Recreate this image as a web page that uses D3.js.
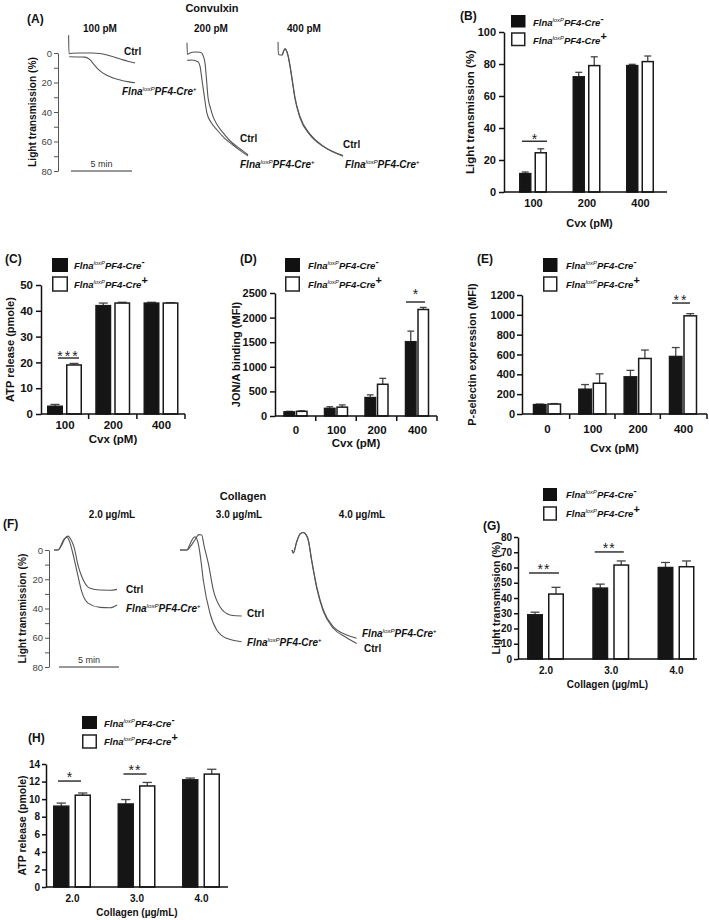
<!DOCTYPE html>
<html><head><meta charset="utf-8">
<script src="https://cdn.jsdelivr.net/npm/d3@7"></script>
<style>
body{margin:0;background:#fff}
svg{display:block}
text{font-family:"Liberation Sans",Arial,Helvetica,sans-serif}
</style>
</head><body>
<svg id="c" width="709" height="920"></svg>
<script>
// ---------------- DATA ----------------
// Aggregation traces (time in min, light transmission in %)
const convConcs = ["100 pM", "200 pM", "400 pM"];
const convCtrl100 = [[0.05,-12],[0.08,0.5],[0.3,0.2],[1.0,0],[2.0,0],[2.6,0.3],[3.2,1.3],[3.7,2.5],[4.3,4],[4.9,5.6],[5.5,6.8]];
const convFlna100 = [[0.1,2.5],[0.8,2.7],[1.4,2.8],[1.8,4.5],[2.1,7.5],[2.6,12],[3.1,14.8],[3.7,17],[4.4,18.6],[5.0,19.6],[5.5,20.2]];
const convCtrl200 = [[0,-7],[0.03,1],[0.25,0],[0.66,-0.7],[1.07,-0.5],[1.23,0.2],[1.35,2.5],[1.48,7],[1.6,18],[1.72,30],[1.93,37.5],[2.13,43],[2.5,49],[2.95,54],[3.52,59.5],[4.1,63.5],[4.6,66.5],[5.0,69]];
const convFlna200 = [[0.02,5],[0.41,4.7],[0.9,5.9],[1.07,9],[1.23,18.3],[1.43,30],[1.64,41],[1.97,47],[2.46,52.2],[3.11,58],[3.77,62.4],[4.34,66],[5.0,69.8]];
const convCtrl400 = [[0,-7.5],[0.03,1],[0.33,1.4],[0.57,-3],[0.82,1.4],[0.98,8],[1.15,17],[1.39,30],[1.8,43],[2.62,55],[3.69,63],[5.33,69.5]];
const convFlna400 = [[0.33,1.6],[0.57,-2.6],[0.82,2],[0.98,9],[1.15,18],[1.39,31],[1.8,44],[2.62,55.5],[3.69,63.3],[5.33,70]];

const collConcs = ["2.0 µg/mL", "3.0 µg/mL", "4.0 µg/mL"];
const collCtrl2 = [[0,0],[0.33,0],[0.64,-3.4],[0.92,-8],[1.17,-9.5],[1.42,-7],[1.67,-2],[2.03,11.4],[2.44,20.5],[3.0,26.2],[3.83,27.4],[4.67,27.5],[5.25,26.9]];
const collFlna2 = [[0,0],[0.33,0],[0.58,-3],[0.83,-7.5],[1.08,-8.5],[1.33,-5],[1.5,0],[1.89,13.7],[2.31,28.5],[2.86,36.5],[3.83,39.2],[4.67,39.5],[5.25,37.6]];
const collCtrl3 = [[0,0],[0.58,0],[0.92,-3],[1.25,-7],[1.58,-10.5],[1.81,-10.3],[2.0,-3],[2.36,9.1],[2.78,27.4],[3.33,38.8],[4.17,44.4],[4.67,45],[5.14,45.1]];
const collFlna3 = [[0,0],[0.58,0],[0.83,-4],[1.08,-8],[1.25,-9],[1.5,-5],[1.71,5],[1.94,20.5],[2.5,43.3],[3.06,54.7],[3.89,60.4],[5.14,62.7]];
const collCtrl4 = [[0,0],[0.11,2],[0.39,-5.5],[0.67,-10.8],[0.92,-12],[1.17,-10.5],[1.36,-6.5],[1.64,7.5],[2.06,26],[2.61,42],[3.44,53.5],[4.56,60],[5.39,64]];
const collFlna4 = [[0,0],[0.11,2],[0.39,-5.7],[0.67,-11],[0.92,-12],[1.17,-10.5],[1.36,-6.8],[1.64,6.8],[2.06,25],[2.61,41],[3.44,52.4],[4.56,58.1],[5.39,60.4]];

// (B) Light transmission, Cvx
const cvx3 = ["100", "200", "400"];
const bMinus = [11.5, 72, 79];   const bMinusErr = [1, 2.8, 0.8];
const bPlus  = [24.5, 79, 81.5]; const bPlusErr  = [2.5, 5.5, 3.5];
// (C) ATP release, Cvx
const cMinus = [3, 42, 43];    const cMinusErr = [0.7, 1, 0.3];
const cPlus  = [19, 43, 43];   const cPlusErr  = [0.6, 0.3, 0.15];
// (D) JON/A binding
const cvx4 = ["0", "100", "200", "400"];
const dMinus = [85, 155, 375, 1510]; const dMinusErr = [10, 33, 55, 215];
const dPlus  = [95, 180, 645, 2165]; const dPlusErr  = [10, 45, 120, 42];
// (E) P-selectin expression
const eMinus = [95, 250, 375, 580];  const eMinusErr = [5, 47, 65, 90];
const ePlus  = [100, 310, 560, 990]; const ePlusErr  = [5, 95, 85, 22];
// (G) Light transmission, collagen
const coll3 = ["2.0", "3.0", "4.0"];
const gMinus = [29, 46.5, 60];     const gMinusErr = [1.7, 2.6, 3.3];
const gPlus  = [42.6, 61.6, 60.5]; const gPlusErr  = [4.4, 2.7, 3.8];
// (H) ATP release, collagen
const hMinus = [9.2, 9.45, 12.2];    const hMinusErr = [0.35, 0.5, 0.2];
const hPlus  = [10.45, 11.5, 12.85]; const hPlusErr  = [0.25, 0.4, 0.55];

// ---------------- DRAWING ----------------
const svg = d3.select("#c");
const FF = '"Liberation Sans",Arial,Helvetica,sans-serif';

function label(x, y, s, size, opts = {}) {
  const t = svg.append("text").attr("x", x).attr("y", y).attr("font-size", size)
    .attr("font-weight", opts.weight || "bold").attr("text-anchor", opts.anchor || "start")
    .attr("fill", opts.fill || "#111").text(s);
  if (opts.rotate) t.attr("transform", `rotate(-90,${x},${y})`);
  if (opts.ls) t.attr("letter-spacing", opts.ls);
  return t;
}

function geno(x, y, size, sign, signSize) {
  const t = svg.append("text").attr("x", x).attr("y", y).attr("font-size", size)
    .attr("font-weight", "bold").attr("font-style", "italic").attr("fill", "#111");
  t.append("tspan").text("Flna");
  t.append("tspan").attr("dy", -size * 0.38).attr("font-size", size * 0.62).attr("font-weight", "normal").text("loxP");
  t.append("tspan").attr("dy", size * 0.38).text("PF4-Cre");
  t.append("tspan").attr("dy", -size * 0.42).attr("font-size", signSize).attr("font-style", "normal").text(sign);
  return t;
}

function legend(x, yBlack, yWhite, w, h, tx, tb1, tb2, size) {
  svg.append("rect").attr("x", x).attr("y", yBlack).attr("width", w).attr("height", h).attr("fill", "#111");
  svg.append("rect").attr("x", x + 0.75).attr("y", yWhite).attr("width", w - 1.5).attr("height", h)
    .attr("fill", "#fff").attr("stroke", "#222").attr("stroke-width", 1.5);
  geno(tx, tb1, size, "-", size * 1.0);
  geno(tx, tb2, size, "+", size * 1.15);
}

function traceChart(cfg) {
  const ty = d3.scaleLinear().domain([0, 80]).range([cfg.y0, cfg.y80]);
  const tx = d3.scaleLinear().domain([0, 5]).range([0, cfg.pxPer5]);
  const g = svg.append("g");
  const ax = g.append("g").attr("transform", `translate(${cfg.axisX},0)`)
    .call(d3.axisLeft(ty).tickValues(d3.range(0, 81, 10)).tickFormat(d => d % 20 === 0 ? d : "")
      .tickSize(4).tickPadding(2).tickSizeOuter(0));
  ax.selectAll("path,line").attr("stroke", "#555").attr("stroke-width", 1);
  ax.selectAll("text").attr("font-size", 9.5).attr("fill", "#444").attr("font-family", FF);
  // scale bar
  g.append("line").attr("x1", cfg.barX).attr("x2", cfg.barX + tx(5)).attr("y1", ty(80)).attr("y2", ty(80))
    .attr("stroke", "#333").attr("stroke-width", 1.2);
  label(cfg.barX + tx(5) / 2, ty(80) - 4, "5 min", 9, { anchor: "middle", weight: "normal", fill: "#333" });
  // axis title
  label(cfg.titleX, (ty(0) + ty(80)) / 2, "Light transmission (%)", 10.2, { anchor: "middle", rotate: true });
  const line = d3.line().x(d => d[0]).y(d => ty(d[1])).curve(d3.curveMonotoneX);
  cfg.traces.forEach(tr => {
    tr.series.forEach(s => {
      g.append("path").attr("d", line(s.map(d => [tr.off + tx(d[0]), d[1]])))
        .attr("fill", "none").attr("stroke", "#555").attr("stroke-width", 1.1);
    });
    label(tr.headX, cfg.headY, tr.name, 10, { anchor: "middle" });
  });
}

function barChart(cfg) {
  const x = d3.scalePoint().domain(cfg.cats).range([cfg.c0, cfg.c1]);
  const y = d3.scaleLinear().domain([0, cfg.max]).range([cfg.yb, cfg.yt]);
  const g = svg.append("g");
  const off = cfg.gap / 2 + cfg.barW / 2;
  const series = [
    { vals: cfg.minus, errs: cfg.minusErr, fill: "#151515", dx: -off },
    { vals: cfg.plus, errs: cfg.plusErr, fill: "#fff", dx: off }
  ];
  series.forEach(s => {
    const rows = cfg.cats.map((c, i) => ({ c, v: s.vals[i], e: s.errs[i] }));
    g.selectAll(null).data(rows).enter().append("line")
      .attr("x1", d => x(d.c) + s.dx).attr("x2", d => x(d.c) + s.dx)
      .attr("y1", d => y(d.v)).attr("y2", d => y(d.v + d.e))
      .attr("stroke", "#444").attr("stroke-width", 1.3);
    g.selectAll(null).data(rows).enter().append("line")
      .attr("x1", d => x(d.c) + s.dx - cfg.barW * 0.28).attr("x2", d => x(d.c) + s.dx + cfg.barW * 0.28)
      .attr("y1", d => y(d.v + d.e)).attr("y2", d => y(d.v + d.e))
      .attr("stroke", "#444").attr("stroke-width", 1.3);
    g.selectAll(null).data(rows).enter().append("rect")
      .attr("x", d => x(d.c) + s.dx - cfg.barW / 2 + 0.75).attr("width", cfg.barW - 1.5)
      .attr("y", d => y(d.v)).attr("height", d => cfg.yb - y(d.v))
      .attr("fill", s.fill).attr("stroke", "#1a1a1a").attr("stroke-width", 1.5);
  });
  // y axis
  const ax = g.append("g").attr("transform", `translate(${cfg.x0},0)`)
    .call(d3.axisLeft(y).tickValues(d3.range(0, cfg.max + cfg.step / 2, cfg.step))
      .tickFormat(d3.format("d")).tickSize(cfg.tickLen).tickPadding(cfg.tickPad).tickSizeOuter(0));
  ax.selectAll("path,line").attr("stroke", "#111").attr("stroke-width", 1.5);
  ax.selectAll("text").attr("font-size", cfg.tickFont).attr("font-weight", "bold").attr("fill", "#111")
    .attr("font-family", FF);
  // x axis
  g.append("line").attr("x1", cfg.x0).attr("x2", cfg.x1).attr("y1", cfg.yb).attr("y2", cfg.yb)
    .attr("stroke", "#111").attr("stroke-width", 1.5);
  if (cfg.xTicks) {
    const cs = cfg.cats.map(c => x(c));
    const bounds = [];
    for (let i = 0; i < cs.length - 1; i++) bounds.push((cs[i] + cs[i + 1]) / 2);
    bounds.push(cfg.x1);
    bounds.forEach(b => g.append("line").attr("x1", b).attr("x2", b).attr("y1", cfg.yb).attr("y2", cfg.yb + 5)
      .attr("stroke", "#111").attr("stroke-width", 1.5));
  }
  const xa = g.append("g").attr("transform", `translate(0,${cfg.xLabY})`)
    .call(d3.axisBottom(x).tickSize(0).tickPadding(0));
  xa.select(".domain").remove();
  xa.selectAll("text").attr("dy", 0).attr("font-size", cfg.xFont).attr("font-weight", "bold").attr("fill", "#111")
    .attr("font-family", FF);
  label((cfg.x0 + cfg.x1) / 2 + (cfg.xTitleDx || 0), cfg.xTitleY, cfg.xTitle, cfg.xFont, { anchor: "middle" });
  label(cfg.titleX, (cfg.yb + cfg.yt) / 2, cfg.yTitle, cfg.titleFont, { anchor: "middle", rotate: true });
  // significance
  (cfg.sig || []).forEach(s => {
    const cx = x(s.cat);
    g.append("line").attr("x1", cx + s.dx1).attr("x2", cx + s.dx2).attr("y1", y(s.at)).attr("y2", y(s.at))
      .attr("stroke", "#333").attr("stroke-width", 1.5);
    label(cx + (s.dx1 + s.dx2) / 2, y(s.at) + (s.dy == null ? 2 : s.dy), s.text, 14,
      { anchor: "middle", weight: "normal", ls: s.ls || 0, fill: "#222" });
  });
}

// ---- Panel A ----
label(27, 23, "(A)", 12);
label(212, 12, "Convulxin", 11, { anchor: "middle" });
traceChart({
  axisX: 58, y0: 53, y80: 171, pxPer5: 61, barX: 71, titleX: 36, headY: 32,
  traces: [
    { name: convConcs[0], off: 68, headX: 100, series: [convCtrl100, convFlna100] },
    { name: convConcs[1], off: 187, headX: 211, series: [convCtrl200, convFlna200] },
    { name: convConcs[2], off: 278, headX: 304, series: [convCtrl400, convFlna400] }
  ]
});
label(124, 55, "Ctrl", 10);
geno(122, 95, 10, "+", 6);
label(240, 142, "Ctrl", 10);
geno(240, 168, 10, "+", 6);
label(343, 148, "Ctrl", 10);
geno(345, 168, 10, "+", 6);

// ---- Panel B ----
label(460, 20, "(B)", 12);
legend(511, 15, 33, 14.5, 12.5, 533, 26, 44, 9.5);
barChart({
  cats: cvx3, minus: bMinus, minusErr: bMinusErr, plus: bPlus, plusErr: bPlusErr,
  x0: 504, x1: 667, c0: 533, c1: 640, yb: 192, yt: 32, max: 100, step: 20,
  barW: 12.5, gap: 3, xTicks: false, tickLen: 5, tickPad: 3, tickFont: 11, xFont: 11,
  xLabY: 207, xTitleY: 227, xTitle: "Cvx (pM)", xTitleDx: 4, titleX: 474, titleFont: 11.5,
  yTitle: "Light transmission (%)",
  sig: [{ cat: "100", text: "*", at: 31.7, dx1: -11, dx2: 14, dy: 3 }]
});

// ---- Panel C ----
label(5, 263, "(C)", 12);
legend(52, 258, 277, 16, 14, 74, 269, 288, 9.5);
barChart({
  cats: cvx3, minus: cMinus, minusErr: cMinusErr, plus: cPlus, plusErr: cPlusErr,
  x0: 41, x1: 185, c0: 64.5, c1: 161, yb: 414, yt: 285, max: 50, step: 10,
  barW: 16, gap: 3, xTicks: true, tickLen: 5, tickPad: 3, tickFont: 11.5, xFont: 11.5,
  xLabY: 429, xTitleY: 443, xTitle: "Cvx (pM)", titleX: 14, titleFont: 11,
  yTitle: "ATP release (pmole)",
  sig: [{ cat: "100", text: "***", at: 21.7, dx1: -6.5, dx2: 14.5, dy: 3, ls: 2 }]
});

// ---- Panel D ----
label(240, 263, "(D)", 12);
legend(285, 258, 277, 15, 14, 308, 269, 288, 9.5);
barChart({
  cats: cvx4, minus: dMinus, minusErr: dMinusErr, plus: dPlus, plusErr: dPlusErr,
  x0: 275, x1: 437, c0: 295.5, c1: 417, yb: 416, yt: 293, max: 2500, step: 500,
  barW: 12, gap: 0.5, xTicks: true, tickLen: 5, tickPad: 3, tickFont: 11, xFont: 11.5,
  xLabY: 434, xTitleY: 447, xTitle: "Cvx (pM)", titleX: 240, titleFont: 11,
  yTitle: "JON/A binding (MFI)",
  sig: [{ cat: "400", text: "*", at: 2317, dx1: -11, dx2: 8, dy: -3 }]
});

// ---- Panel E ----
label(477, 263, "(E)", 12);
legend(543, 258, 277, 14.5, 14, 566, 269, 288, 9.5);
barChart({
  cats: cvx4, minus: eMinus, minusErr: eMinusErr, plus: ePlus, plusErr: ePlusErr,
  x0: 522, x1: 707, c0: 547, c1: 683, yb: 414, yt: 295, max: 1200, step: 200,
  barW: 14, gap: 0.5, xTicks: true, tickLen: 5, tickPad: 2, tickFont: 11, xFont: 11.5,
  xLabY: 433, xTitleY: 452, xTitle: "Cvx (pM)", titleX: 476, titleFont: 11,
  yTitle: "P-selectin expression (MFI)",
  sig: [{ cat: "400", text: "**", at: 1119, dx1: -11, dx2: 7, dy: 2, ls: 2 }]
});

// ---- Panel F ----
label(3, 528, "(F)", 12);
label(243, 500, "Collagen", 11, { anchor: "middle" });
traceChart({
  axisX: 49, y0: 550, y80: 667, pxPer5: 60, barX: 59, titleX: 26, headY: 518,
  traces: [
    { name: collConcs[0], off: 54, headX: 112, series: [collCtrl2, collFlna2] },
    { name: collConcs[1], off: 180, headX: 239, series: [collCtrl3, collFlna3] },
    { name: collConcs[2], off: 292, headX: 362, series: [collCtrl4, collFlna4] }
  ]
});
label(126, 593, "Ctrl", 10);
geno(126, 612, 10, "+", 6);
label(247, 617, "Ctrl", 10);
geno(247, 646, 10, "+", 6);
geno(362, 637, 10, "+", 6);
label(364, 652, "Ctrl", 10);

// ---- Panel G ----
label(483, 530, "(G)", 12);
legend(543, 488, 507, 14, 13, 566, 498, 517, 9.5);
barChart({
  cats: coll3, minus: gMinus, minusErr: gMinusErr, plus: gPlus, plusErr: gPlusErr,
  x0: 518, x1: 697, c0: 545.5, c1: 676, yb: 659, yt: 537, max: 80, step: 10,
  barW: 16, gap: 5, xTicks: false, tickLen: 4, tickPad: 2, tickFont: 10, xFont: 10,
  xLabY: 674, xTitleY: 688, xTitle: "Collagen (µg/mL)", titleX: 500, titleFont: 10.5,
  yTitle: "Light transmission (%)",
  sig: [
    { cat: "2.0", text: "**", at: 56.4, dx1: -16.5, dx2: 13.5, dy: 1, ls: 1 },
    { cat: "3.0", text: "**", at: 70.2, dx1: -16, dx2: 13, dy: 1, ls: 1 }
  ]
});

// ---- Panel H ----
label(28, 742, "(H)", 12);
legend(82, 716, 735, 15, 13, 104, 727, 745, 9.5);
barChart({
  cats: coll3, minus: hMinus, minusErr: hMinusErr, plus: hPlus, plusErr: hPlusErr,
  x0: 46, x1: 228, c0: 72, c1: 201, yb: 887, yt: 764, max: 14, step: 2,
  barW: 16.5, gap: 5, xTicks: false, tickLen: 4, tickPad: 2, tickFont: 10, xFont: 10,
  xLabY: 902, xTitleY: 916, xTitle: "Collagen (µg/mL)", titleX: 26, titleFont: 10.5,
  yTitle: "ATP release (pmole)",
  sig: [
    { cat: "2.0", text: "*", at: 12.06, dx1: -14, dx2: 9, dy: 1 },
    { cat: "3.0", text: "**", at: 12.86, dx1: -13, dx2: 10, dy: 1, ls: 1 }
  ]
});
</script>
</body></html>
